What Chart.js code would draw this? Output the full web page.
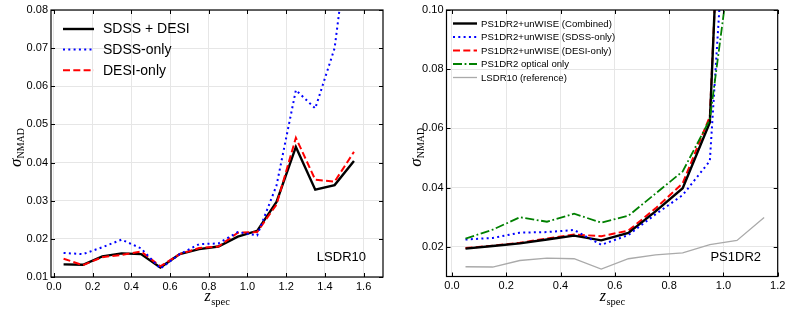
<!DOCTYPE html>
<html>
<head>
<meta charset="utf-8">
<script src="https://cdn.jsdelivr.net/npm/chart.js@4.4.1/dist/chart.umd.min.js"></script>
<style>
  body { margin: 0; background: #fff; }
  #wrap { position: relative; width: 793px; height: 317px; }
  canvas { position: absolute; top: 0; }
  #leftChart { left: 0; }
  #rightChart { left: 400px; }
</style>
</head>
<body>
<div id="wrap">
  <canvas id="leftChart" width="400" height="317"></canvas>
  <canvas id="rightChart" width="393" height="317"></canvas>
</div>
<script>
// z bins (bin centres)
const zLeft = [0.05, 0.15, 0.25, 0.35, 0.45, 0.55, 0.65, 0.75, 0.85, 0.95, 1.05, 1.15, 1.25, 1.35, 1.45, 1.55];
const zRight = [0.05, 0.15, 0.25, 0.35, 0.45, 0.55, 0.65, 0.75, 0.85, 0.95, 1.05];
const zRef = [0.05, 0.15, 0.25, 0.35, 0.45, 0.55, 0.65, 0.75, 0.85, 0.95, 1.05, 1.15];

// left panel: LSDR10
const lsCombined = [0.0133, 0.0132, 0.0154, 0.0162, 0.0160, 0.0125, 0.0160, 0.0173, 0.0180, 0.0206, 0.0221, 0.0297, 0.0441, 0.0329, 0.0341, 0.0404];
const lsSdss = [0.0163, 0.0160, 0.0178, 0.0198, 0.0175, 0.0122, 0.0160, 0.0186, 0.0188, 0.0218, 0.0209, 0.0340, 0.0590, 0.0542, 0.0700, 0.1100];
const lsDesi = [0.0148, 0.0131, 0.0152, 0.0158, 0.0167, 0.0128, 0.0160, 0.0176, 0.0180, 0.0216, 0.0218, 0.0290, 0.0465, 0.0355, 0.0350, 0.0428];

// right panel: PS1DR2
const psCombined = [0.0194, 0.0203, 0.0212, 0.0225, 0.0238, 0.0222, 0.0247, 0.0320, 0.0398, 0.0620, 0.2800];
const psSdss = [0.0225, 0.0230, 0.0248, 0.0250, 0.0257, 0.0207, 0.0240, 0.0310, 0.0375, 0.0490, 0.1950];
const psDesi = [0.0196, 0.0204, 0.0214, 0.0228, 0.0242, 0.0236, 0.0255, 0.0330, 0.0415, 0.0640, 0.2700];
const psOptical = [0.0228, 0.0258, 0.0300, 0.0285, 0.0312, 0.0282, 0.0305, 0.0380, 0.0455, 0.0630, 0.1330];
const lsdr10Ref = [0.0133, 0.0132, 0.0154, 0.0162, 0.0160, 0.0125, 0.0160, 0.0173, 0.0180, 0.0208, 0.0222, 0.0299];

// tick labels
const xTicksLeft = [0.0, 0.2, 0.4, 0.6, 0.8, 1.0, 1.2, 1.4, 1.6];
const yTicksLeft = [0.01, 0.02, 0.03, 0.04, 0.05, 0.06, 0.07, 0.08];
const xTicksRight = [0.0, 0.2, 0.4, 0.6, 0.8, 1.0, 1.2];
const yTicksRight = [0.02, 0.04, 0.06, 0.08, 0.10];

function makeData(xs, ys) {
    return xs.map((x, i) => ({ x: x, y: ys[i] }));
}

function line(label, xs, ys, color, width, dash) {
    return {
        label: label,
        data: makeData(xs, ys),
        borderColor: color,
        borderWidth: width,
        borderDash: dash,
        pointRadius: 0,
        tension: 0,
        fill: false
    };
}

// frame, inward ticks, legend, axis titles and panel tag
const panelDeco = {
    id: 'panelDeco',
    afterDraw(chart, args, opts) {
        const ctx = chart.ctx;
        const { left, right, top, bottom } = chart.chartArea;
        const xs = chart.scales.x, ys = chart.scales.y;
        ctx.save();

        ctx.strokeStyle = '#000';
        ctx.lineWidth = 1.2;
        ctx.strokeRect(left, top, right - left, bottom - top);

        ctx.lineWidth = 1;
        ctx.beginPath();
        xs.ticks.forEach(t => {
            const p = Math.round(xs.getPixelForValue(t.value)) + 0.5;
            ctx.moveTo(p, bottom); ctx.lineTo(p, bottom - 4);
            ctx.moveTo(p, top); ctx.lineTo(p, top + 4);
        });
        ys.ticks.forEach(t => {
            const p = Math.round(ys.getPixelForValue(t.value)) + 0.5;
            ctx.moveTo(left, p); ctx.lineTo(left + 4, p);
            ctx.moveTo(right, p); ctx.lineTo(right - 4, p);
        });
        ctx.stroke();

        // legend
        const lg = opts.legend;
        ctx.font = lg.font;
        ctx.textBaseline = 'middle';
        ctx.textAlign = 'left';
        lg.items.forEach((it, i) => {
            const y = lg.y + i * lg.rowH;
            ctx.beginPath();
            ctx.strokeStyle = it.color;
            ctx.lineWidth = it.width;
            ctx.setLineDash(it.dash || []);
            ctx.moveTo(lg.x0, y);
            ctx.lineTo(lg.x1, y);
            ctx.stroke();
            ctx.setLineDash([]);
            ctx.fillStyle = '#000';
            ctx.fillText(it.label, lg.textX, y + 0.5);
        });

        // panel tag
        ctx.font = '13px "Liberation Sans", Arial, sans-serif';
        ctx.textAlign = 'right';
        ctx.fillStyle = '#000';
        ctx.fillText(opts.tag, opts.tagX, opts.tagY);

        // x title: z_spec
        const cx = (left + right) / 2;
        ctx.textAlign = 'left';
        ctx.textBaseline = 'alphabetic';
        ctx.font = 'italic 16px "Liberation Serif", "DejaVu Serif", serif';
        const zw = ctx.measureText('z').width;
        ctx.font = '10.5px "Liberation Serif", "DejaVu Serif", serif';
        const sw = ctx.measureText('spec').width;
        const x0 = cx - (zw + sw) / 2;
        ctx.font = 'italic 16px "Liberation Serif", "DejaVu Serif", serif';
        ctx.fillText('z', x0, 301);
        ctx.font = '10.5px "Liberation Serif", "DejaVu Serif", serif';
        ctx.fillText('spec', x0 + zw + 0.5, 305);

        // y title: sigma_NMAD
        ctx.translate(opts.yTitleX, (top + bottom) / 2 + 4);
        ctx.rotate(-Math.PI / 2);
        ctx.font = 'italic 17px "Liberation Serif", "DejaVu Serif", serif';
        const gw = ctx.measureText('σ').width;
        ctx.font = '10px "Liberation Serif", "DejaVu Serif", serif';
        const nw = ctx.measureText('NMAD').width;
        const y0 = -(gw + nw) / 2;
        ctx.font = 'italic 17px "Liberation Serif", "DejaVu Serif", serif';
        ctx.fillText('σ', y0, 0);
        ctx.font = '10px "Liberation Serif", "DejaVu Serif", serif';
        ctx.fillText('NMAD', y0 + gw, 3);

        ctx.restore();
    }
};

function makeChart(id, cfg) {
    const ctx = document.getElementById(id).getContext('2d');
    return new Chart(ctx, {
        type: 'line',
        data: { datasets: cfg.datasets },
        options: {
            responsive: false,
            animation: false,
            devicePixelRatio: 1,
            layout: { padding: { top: 10, right: cfg.padRight, left: 0, bottom: 0 } },
            scales: {
                x: {
                    type: 'linear',
                    min: cfg.xMin,
                    max: cfg.xMax,
                    afterBuildTicks: s => { s.ticks = cfg.xTicks.map(v => ({ value: v })); },
                    afterFit: s => { s.height = cfg.xHeight; },
                    grid: { color: '#e6e6e6', lineWidth: 1, drawTicks: false },
                    border: { display: false },
                    ticks: {
                        padding: 3,
                        color: '#000',
                        maxRotation: 0,
                        font: { family: '"Liberation Sans", Arial, sans-serif', size: 11 },
                        callback: v => v.toFixed(1)
                    }
                },
                y: {
                    type: 'linear',
                    min: cfg.yMin,
                    max: cfg.yMax,
                    afterBuildTicks: s => { s.ticks = cfg.yTicks.map(v => ({ value: v })); },
                    afterFit: s => { s.width = cfg.yWidth; },
                    grid: { color: '#e6e6e6', lineWidth: 1, drawTicks: false },
                    border: { display: false },
                    ticks: {
                        padding: 3,
                        color: '#000',
                        font: { family: '"Liberation Sans", Arial, sans-serif', size: 11 },
                        callback: v => v.toFixed(2)
                    }
                }
            },
            plugins: {
                legend: { display: false },
                tooltip: { enabled: false },
                panelDeco: cfg.deco
            }
        },
        plugins: [panelDeco]
    });
}

document.addEventListener('DOMContentLoaded', function() {
    const blackL = line('SDSS + DESI', zLeft, lsCombined, '#000000', 2.4, []);
    const blueL = line('SDSS-only', zLeft, lsSdss, '#0000ff', 2, [2, 3.3]);
    const redL = line('DESI-only', zLeft, lsDesi, '#ff0000', 2, [7, 3.3]);

    makeChart('leftChart', {
        datasets: [blueL, redL, blackL],
        xMin: -0.015, xMax: 1.7, yMin: 0.01, yMax: 0.08,
        xTicks: xTicksLeft, yTicks: yTicksLeft,
        padRight: 17, yWidth: 51, xHeight: 40,
        deco: {
            tag: 'LSDR10', tagX: 366, tagY: 257, yTitleX: 21,
            legend: {
                font: '14px "Liberation Sans", Arial, sans-serif',
                x0: 63, x1: 94, textX: 103, y: 29, rowH: 20.6,
                items: [
                    { label: 'SDSS + DESI', color: '#000000', width: 2.4, dash: [] },
                    { label: 'SDSS-only', color: '#0000ff', width: 2, dash: [2, 3.3] },
                    { label: 'DESI-only', color: '#ff0000', width: 2, dash: [7, 3.3] }
                ]
            }
        }
    });

    const items = [
        { label: 'PS1DR2+unWISE (Combined)', color: '#000000', width: 2.4, dash: [] },
        { label: 'PS1DR2+unWISE (SDSS-only)', color: '#0000ff', width: 2, dash: [2, 3.3] },
        { label: 'PS1DR2+unWISE (DESI-only)', color: '#ff0000', width: 2, dash: [7, 3.3] },
        { label: 'PS1DR2 optical only', color: '#008000', width: 1.8, dash: [9, 2.6, 1.8, 2.6] },
        { label: 'LSDR10 (reference)', color: '#aaaaaa', width: 1.3, dash: [] }
    ];

    makeChart('rightChart', {
        datasets: [
            line(items[4].label, zRef, lsdr10Ref, '#aaaaaa', 1.3, []),
            line(items[3].label, zRight, psOptical, '#008000', 1.8, [9, 2.6, 1.8, 2.6]),
            line(items[1].label, zRight, psSdss, '#0000ff', 2, [2, 3.3]),
            line(items[0].label, zRight, psCombined, '#000000', 2.4, []),
            line(items[2].label, zRight, psDesi, '#ff0000', 2, [7, 3.3])
        ],
        xMin: -0.02, xMax: 1.2, yMin: 0.01, yMax: 0.10,
        xTicks: xTicksRight, yTicks: yTicksRight,
        padRight: 15.3, yWidth: 46.5, xHeight: 40.5,
        deco: {
            tag: 'PS1DR2', tagX: 361, tagY: 257, yTitleX: 21,
            legend: {
                font: '9.6px "Liberation Sans", Arial, sans-serif',
                x0: 53, x1: 77, textX: 81, y: 23.5, rowH: 13.5,
                items: items
            }
        }
    });
});
</script>
</body>
</html>
